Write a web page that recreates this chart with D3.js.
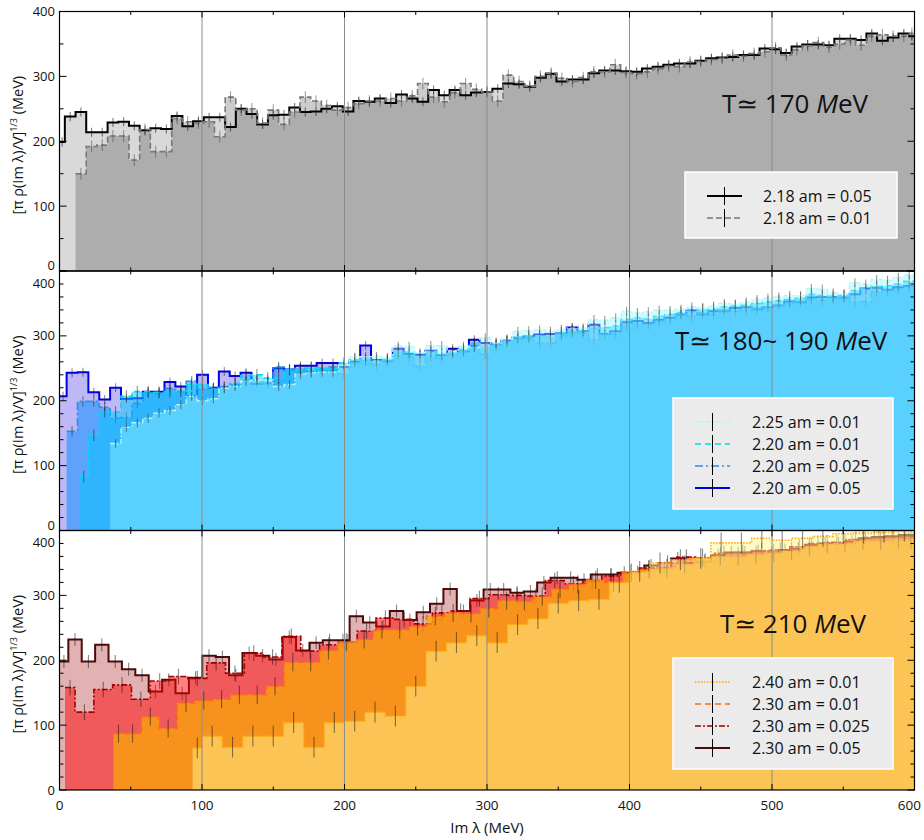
<!DOCTYPE html>
<html>
<head>
<meta charset="utf-8">
<script src="https://cdn.jsdelivr.net/npm/d3@7"></script>
<style>
  body { margin: 0; background: #fff; }
  text { font-family: "Open Sans", "DejaVu Sans", sans-serif; fill: #111; }
</style>
</head>
<body>
<svg id="chart" width="924" height="840"></svg>
<script>
// ---- data: spectral histograms, values in MeV ----
const xTicks = [0, 100, 200, 300, 400, 500, 600];
const yTicks = [0, 100, 200, 300, 400];

// panel 1, beta = 2.18, bins of 7.5 MeV centred on multiples of 7.5
const b218_am005 = [199, 238, 245, 214, 214, 229, 230, 224, 217, 220, 219, 239, 223, 231, 237, 237, 222, 250, 242, 226, 240, 241, 252, 245, 246,
  250, 254, 246, 262, 261, 266, 259, 272, 266, 261, 279, 271, 279, 271, 275, 276, 281, 289, 288, 284, 298, 304, 292, 295, 295, 305, 309,
  309, 308, 307, 312, 315, 318, 320, 320, 324, 328, 329, 330, 333, 333, 343, 342, 336, 346, 349, 349, 348, 358, 358, 356, 366, 355, 360, 366, 362];
const b218_am001 = [null, null, 150, 192, 194, 208, 208, 171, 218, 184, 184, 235, 230, 228, 230, 207, 268, 248, 250, 228, 248, 226, 245, 268, 262,
  255, 248, 252, 258, 262, 262, 266, 262, 270, 289, 268, 261, 275, 289, 280, 276, 262, 302, 292, 285, 300, 305, 297, 292, 298, 307, 307,
  318, 306, 304, 307, 312, 316, 315, 322, 323, 326, 328, 333, 331, 335, 338, 344, 333, 341, 347, 352, 345, 350, 356, 348, 362, 364, 362, 362, 366];

// panel 2, beta = 2.20 / 2.25, bins of 7.63 MeV
const b220_am005 = [207, 243, 244, 213, 202, 220, 203, 204, 214, 214, 229, 222, 207, 240, 220, 245, 238, 243, 226, 227, 250, 248, 254, 254, 258, 258,
  252, 260, 285, 263, 261, 280, 272, 271, 277, 270, 280, 276, 294, 289, 287, 293, 297, 299, 302, 303, 304, 313, 307, 317, 303, 307, 321,
  323, 320, 325, 328, 333, 339, 333, 338, 338, 343, 344, 341, 344, 347, 353, 352, 359, 360, 360, 359, 364, 373, 374, 371, 375, 377];
const b220_am0025 = [null, 153, 199, 199, 190, 173, 174, 196, 212, 211, 219, 214, 230, 218, 220, 222, 225, 230, 232, 228, 252, 248, 250, 245, 250, 252,
  241, 258, 262, 256, 262, 270, 268, 253, 268, 266, 272, 275, 285, 272, 285, 290, 294, 296, 289, 289, 300, 305, 304, 294, 303, 303, 315,
  318, 318, 322, 325, 333, 330, 336, 333, 340, 338, 340, 343, 345, 348, 350, 355, 356, 355, 358, 360, 353, 353, 368, 370, 372, 376];
const b220_am001 = [null, null, 83, 147, 183, 183, 207, 214, 214, 213, 214, 215, 225, 225, 218, 220, 227, 239, 240, 235, 235, 248, 248, 250, 250, 250,
  258, 263, 264, 262, 264, 276, 275, 268, 276, 272, 275, 279, 288, 282, 288, 292, 298, 300, 300, 298, 305, 308, 308, 312, 313, 315, 325,
  328, 326, 330, 333, 336, 338, 340, 341, 345, 346, 347, 350, 352, 354, 356, 358, 364, 362, 361, 362, 370, 372, 376, 377, 380, 384];
const b225_am001 = [null, null, null, null, null, 134, 159, 166, 173, 181, 185, 194, 207, 200, 203, 219, 222, 230, 232, 232, 222, 225, 241, 243, 244, 244,
  255, 267, 268, 268, 266, 284, 284, 274, 285, 285, 276, 284, 282, 297, 289, 295, 307, 308, 309, 307, 310, 312, 312, 325, 324, 328, 338,
  336, 337, 340, 339, 341, 345, 344, 346, 350, 349, 352, 356, 358, 360, 362, 362, 373, 372, 366, 365, 382, 380, 387, 386, 390, 394];

// panel 3, beta = 2.30 / 2.40, each ensemble with its own bin width
const b230_am005 = [198, 232, 198, 224, 198, 186, 177, 152, 170, 149, 173, 207, 205, 177, 211, 207, 201, 236, 215, 227, 231, 231, 268,
  258, 252, 276, 262, 274, 287, 310, 276, 292, 309, 309, 304, 306, 320, 327, 327, 324, 332, 332, 335, 336,
  346, 342, 357, 350, 352, 362, 366, 366, 368, 366, 370, 372, 378, 380, 380, 383, 388, 390, 391, 393, 393];
const b230_am0025 = [158, 120, 155, 162, 140, 168, 175, 172, 196, 180, 211, 205, 237, 214, 224, 228,
  245, 265, 263, 256, 273, 276, 295, 301, 300, 299, 323, 318, 322, 330, 335,
  342, 350, 359, 353, 365, 366, 369, 370, 375, 380, 382, 386, 389, 390, 391];
const b230_am001 = [null, null, null, 87, 87, 113, 95, 134, 138, 140, 147, 147, 160, 197, 197, 215, 228, 232, 247, 247,
  252, 268, 273, 272, 280, 292, 291, 298, 310, 317, 324, 320, 335, 340, 342, 348, 358, 360, 360, 363,
  366, 368, 375, 379, 380, 384, 384, 386, 386];
const b240_am001 = [null, null, null, null, null, null, 65, 83, 66, 83, 83, 104, 66, 104, 106, 120, 114, 160, 214, 227, 238, 227,
  255, 264, 288, 292, 294, 320, 337, 350, 355, 357, 381, 381, 388, 385, 388, 391, 395, 396, 397, 399];

// ---- series tables (drawing order: fill, outline and error bars per series) ----
const panel1 = [
  { label: "2.18 am = 0.05", values: b218_am005, x0: -3.75, w: 7.5, start: 0, stroke: "#000", dash: null, lw: 2, fill: "rgba(0,0,0,0.15)", err: 7, errColor: "#000" },
  { label: "2.18 am = 0.01", values: b218_am001, x0: -3.75, w: 7.5, start: 10, stroke: "#777", dash: "6,3", lw: 1.6, fill: "rgba(0,0,0,0.2)", err: 9, errColor: "#444" }
];
const panel2 = [
  { label: "2.20 am = 0.05", values: b220_am005, x0: -2.63, w: 7.63, start: 0, stroke: "#0000e6", dash: null, lw: 2, fill: "rgba(110,100,235,0.45)", err: 7, errColor: "#222" },
  { label: "2.20 am = 0.025", values: b220_am0025, x0: -2.63, w: 7.63, start: 4.6, stroke: "#2b8fe6", dash: "8,3,2,3", lw: 1.6, fill: "rgba(0,140,255,0.5)", err: 8, errColor: "#222" },
  { label: "2.20 am = 0.01", values: b220_am001, x0: -2.63, w: 7.63, start: 13.7, stroke: "#00dcef", dash: "6,4", lw: 1.6, fill: "rgba(0,200,255,0.5)", err: 9, errColor: "#222" },
  { label: "2.25 am = 0.01", values: b225_am001, x0: -2.63, w: 7.63, start: 35.4, stroke: "#b4f6f6", dash: "5,2,1.5,2", lw: 1.4, fill: "rgba(148,245,255,0.42)", err: 7, errColor: "#333" }
];
const panel3 = [
  { label: "2.30 am = 0.05", values: b230_am005, x0: -3.2, w: 9.4, start: 0, stroke: "#4d0a0a", dash: null, lw: 2, fill: "rgba(160,0,0,0.3)", err: 10, errColor: "#111" },
  { label: "2.30 am = 0.025", values: b230_am0025, x0: -2.3, w: 13.2, start: 3.9, stroke: "#a30000", dash: "6,2,2,2", lw: 1.6, fill: "rgba(254,2,2,0.5)", err: 12, errColor: "#111" },
  { label: "2.30 am = 0.01", values: b230_am001, x0: -5, w: 12.5, start: 37.8, stroke: "#ff6a14", dash: "6,4", lw: 1.6, fill: "rgba(249,167,10,0.75)", err: 14, errColor: "#111" },
  { label: "2.40 am = 0.01", values: b240_am001, x0: 0, w: 600 / 42, start: 93.4, stroke: "#ffaa00", dash: "1.5,1.5", lw: 1.6, fill: "rgba(255,245,140,0.5)", err: 16, errColor: "#111" }
];

const panels = [
  { series: panel1, legendOrder: [0, 1], minorY: 50, temp: "170", tempX: 722, tempY: 113,
    legend: { x: 685, y: 172, w: 212, h: 66, row0: 196, lx0: 707, lx1: 742, tx: 763 } },
  { series: panel2, legendOrder: [3, 2, 1, 0], minorY: 20, temp: "180~ 190", tempX: 675, tempY: 350,
    legend: { x: 673, y: 398, w: 220, h: 111, row0: 422, lx0: 695, lx1: 730, tx: 752 } },
  { series: panel3, legendOrder: [3, 2, 1, 0], minorY: 20, temp: "210", tempX: 720, tempY: 633,
    legend: { x: 673, y: 658, w: 220, h: 111, row0: 682, lx0: 695, lx1: 730, tx: 752 } }
];

// ---- layout ----
const panelTop = [11.5, 271, 530.5];
const panelH = 259.5;
const x = d3.scaleLinear().domain([0, 600]).range([59.5, 914.5]);
const svg = d3.select("#chart");

function binsOf(s) {
  return s.values.map((v, i) => ({
    a: Math.max(s.x0 + i * s.w, s.start, 0),
    b: Math.min(s.x0 + (i + 1) * s.w, 600),
    v
  })).filter((d) => d.v != null && d.b > d.a);
}

function stepPath(bins, y, closed) {
  const p = d3.path();
  bins.forEach((d, i) => {
    if (i === 0) {
      if (closed) { p.moveTo(x(d.a), y(0)); p.lineTo(x(d.a), y(d.v)); }
      else p.moveTo(x(d.a), y(d.v));
    } else {
      p.lineTo(x(d.a), y(d.v));
    }
    p.lineTo(x(d.b), y(d.v));
  });
  if (closed) { p.lineTo(x(bins[bins.length - 1].b), y(0)); p.closePath(); }
  return p.toString();
}

panels.forEach((panel, pi) => {
  const top = panelTop[pi], bottom = top + panelH;
  const y = d3.scaleLinear().domain([0, 400]).range([bottom, top]);
  const g = svg.append("g");

  g.append("clipPath").attr("id", `clip${pi}`)
    .append("rect").attr("x", x(0)).attr("y", top).attr("width", x(600) - x(0)).attr("height", panelH);
  const plot = g.append("g").attr("clip-path", `url(#clip${pi})`);

  // each series: translucent fill, step outline, error bars; later fills veil earlier lines
  panel.series.forEach((s) => {
    const bins = binsOf(s);
    plot.append("path").attr("d", stepPath(bins, y, true)).attr("fill", s.fill);
    plot.append("path").attr("d", stepPath(bins, y, false))
      .attr("fill", "none").attr("stroke", s.stroke).attr("stroke-width", s.lw)
      .attr("stroke-dasharray", s.dash);
    plot.selectAll(null).data(bins).enter().append("line")
      .attr("x1", (d) => x((d.a + d.b) / 2)).attr("x2", (d) => x((d.a + d.b) / 2))
      .attr("y1", (d) => y(d.v - s.err)).attr("y2", (d) => y(d.v + s.err))
      .attr("stroke", s.errColor).attr("stroke-opacity", 0.5).attr("stroke-width", 1.1);
  });

  // vertical grid lines
  plot.selectAll(".grid").data([100, 200, 300, 400, 500]).enter().append("line")
    .attr("x1", (d) => x(d)).attr("x2", (d) => x(d)).attr("y1", top).attr("y2", bottom)
    .attr("stroke", "#8c8c8c").attr("stroke-width", 1);

  // frame and inward ticks
  g.append("rect").attr("x", x(0)).attr("y", top).attr("width", x(600) - x(0)).attr("height", panelH)
    .attr("fill", "none").attr("stroke", "#000").attr("stroke-width", 1.2);

  d3.range(0, 601, 50).forEach((v) => {
    const len = v % 100 === 0 ? 6 : 3.5;
    g.append("line").attr("x1", x(v)).attr("x2", x(v)).attr("y1", bottom).attr("y2", bottom - len).attr("stroke", "#000");
    g.append("line").attr("x1", x(v)).attr("x2", x(v)).attr("y1", top).attr("y2", top + len).attr("stroke", "#000");
  });
  d3.range(0, 401, panel.minorY).forEach((v) => {
    const len = v % 100 === 0 ? 7 : 4;
    g.append("line").attr("x1", x(0)).attr("x2", x(0) + len).attr("y1", y(v)).attr("y2", y(v)).attr("stroke", "#000");
    g.append("line").attr("x1", x(600)).attr("x2", x(600) - len).attr("y1", y(v)).attr("y2", y(v)).attr("stroke", "#000");
  });

  // y tick labels (nudged where panels meet)
  g.selectAll(".ylab").data(yTicks).enter().append("text")
    .attr("x", 55).attr("y", (d) => {
      let yy = y(d) + 4.5;
      if (d === 400 && pi > 0) yy += 12;
      if (d === 0 && pi < 2) yy -= 5.5;
      return yy;
    })
    .attr("text-anchor", "end").attr("font-size", 13).text((d) => d);

  // y axis title
  const cy = (top + bottom) / 2 + 4;
  const yt = g.append("text").attr("transform", `translate(23,${cy}) rotate(-90)`)
    .attr("text-anchor", "middle").attr("font-size", 14.5);
  yt.append("tspan").text("[π ρ(Im λ)/V]");
  yt.append("tspan").attr("font-size", 9).attr("dy", -6).text("1/3");
  yt.append("tspan").attr("dy", 6).text(" (MeV)");

  // temperature label
  const tl = g.append("text").attr("x", panel.tempX).attr("y", panel.tempY).attr("font-size", 26);
  tl.append("tspan").text(`T≃ ${panel.temp} `);
  tl.append("tspan").attr("font-style", "italic").text("M");
  tl.append("tspan").text("eV");

  // legend
  const L = panel.legend;
  g.append("rect").attr("x", L.x).attr("y", L.y).attr("width", L.w).attr("height", L.h)
    .attr("fill", "#ebebeb").attr("stroke", "#fff").attr("stroke-width", 1.5);
  panel.legendOrder.forEach((si, r) => {
    const s = panel.series[si];
    const ry = L.row0 + r * 22;
    g.append("line").attr("x1", L.lx0).attr("x2", L.lx1).attr("y1", ry).attr("y2", ry)
      .attr("stroke", s.stroke).attr("stroke-width", s.lw).attr("stroke-dasharray", s.dash);
    const mx = (L.lx0 + L.lx1) / 2;
    g.append("line").attr("x1", mx).attr("x2", mx).attr("y1", ry - 9).attr("y2", ry + 9)
      .attr("stroke", "#000").attr("stroke-width", 1);
    g.append("text").attr("x", L.tx).attr("y", ry + 5.5).attr("font-size", 16).text(s.label);
  });
});

// x axis labels under the bottom panel
const xBottom = panelTop[2] + panelH;
svg.selectAll(".xlab").data(xTicks).enter().append("text")
  .attr("x", (d) => (d === 600 ? 921 : x(d))).attr("y", xBottom + 20)
  .attr("text-anchor", (d) => (d === 600 ? "end" : "middle"))
  .attr("font-size", 13.5).text((d) => d);
svg.append("text").attr("x", (x(0) + x(600)) / 2).attr("y", xBottom + 43)
  .attr("text-anchor", "middle").attr("font-size", 15).text("Im λ (MeV)");
</script>
</body>
</html>
